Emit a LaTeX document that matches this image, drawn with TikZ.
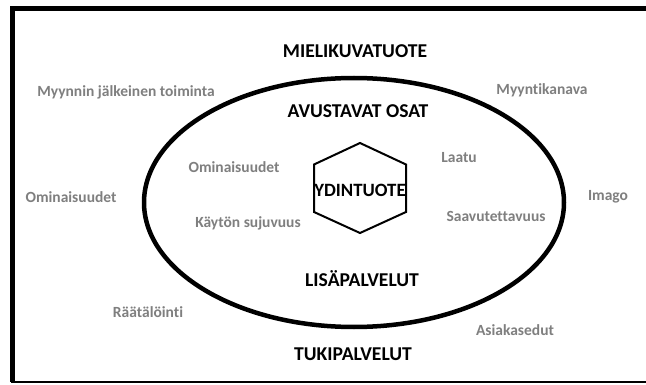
\documentclass[tikz,border=0pt]{standalone}
\usepackage{fontspec}
\setmainfont{Carlito}[Ligatures=NoCommon]
\definecolor{lbl}{RGB}{127,127,127}
\begin{document}
\begin{tikzpicture}[x=1pt,y=-1pt,
  mainlbl/.style={font=\fontsize{19.6}{22}\selectfont\bfseries, text=black, inner sep=0pt, anchor=base},
  sublbl/.style={font=\fontsize{15.5}{18}\selectfont\bfseries, text=lbl, inner sep=0pt, anchor=base}]
\useasboundingbox (0,0) rectangle (646,385);
\fill[white] (0,0) rectangle (646,385);
% frame (open on the right)
\draw[line width=5pt] (646,8.5) -- (12,8.5) -- (12,382);
\draw[line width=2pt] (11,382) -- (646,382);
% ellipse
\draw[line width=4.5pt] (354,202.5) ellipse [x radius=210pt, y radius=124.5pt];
% hexagon core
\node[mainlbl, font=\fontsize{18.8}{22}\selectfont\bfseries] (core) at (360,197) {YDINTUOTE};
\draw[line width=2pt, line join=miter] (360,143) -- (406,164.5) -- (406,212) -- (360,233) -- (314,212) -- (314,164.5) -- cycle;
% main labels
\node[mainlbl] (mielikuva) at (355,58) {MIELIKUVATUOTE};
\node[mainlbl] (avustavat) at (358,118) {AVUSTAVAT OSAT};
\node[mainlbl] (lisa) at (362,287) {LISÄPALVELUT};
\node[mainlbl] (tuki) at (353,360) {TUKIPALVELUT};
% grey labels
\node[sublbl] (myynnin) at (126,97) {Myynnin jälkeinen toiminta};
\node[sublbl] (kanava) at (542,95) {Myyntikanava};
\node[sublbl] (omin1) at (234,173) {Ominaisuudet};
\node[sublbl] (laatu) at (459,163) {Laatu};
\node[sublbl] (omin2) at (71,203) {Ominaisuudet};
\node[sublbl] (imago) at (608,201) {Imago};
\node[sublbl] (kaytto) at (248,228) {Käytön sujuvuus};
\node[sublbl] (saavu) at (496,222) {Saavutettavuus};
\node[sublbl] (raata) at (148,317) {Räätälöinti};
\node[sublbl] (asiakas) at (515,335) {Asiakasedut};
\end{tikzpicture}
\end{document}
